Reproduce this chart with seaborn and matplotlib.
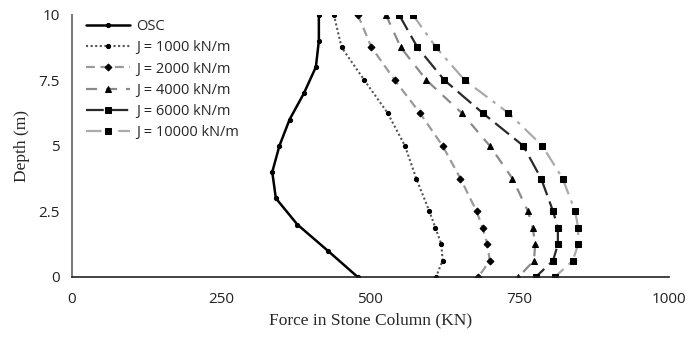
import matplotlib
matplotlib.use("Agg")
import matplotlib.pyplot as plt
import seaborn as sns
import numpy as np
import pandas as pd

sns.set_style("white")
plt.rcParams['font.family'] = ['Open Sans', 'DejaVu Sans']

# Data
depth_osc = [10, 9, 8, 7, 6, 5, 4, 3, 2, 1, 0]
force_osc = [414, 414, 409, 389, 365, 348, 336, 342, 378, 429, 479]

depth_j = [10, 8.75, 7.5, 6.25, 5, 3.75, 2.5, 1.875, 1.25, 0.625, 0]
force_j1000 = [439, 452, 490, 529, 558, 577, 599, 609, 619, 621, 610]
force_j2000 = [479, 502, 541, 583, 621, 651, 678, 688, 696, 700, 681]
force_j4000 = [526, 551, 594, 653, 700, 738, 764, 772, 776, 774, 748]
force_j6000 = [548, 579, 624, 688, 756, 786, 806, 814, 814, 806, 777]
force_j10000 = [571, 610, 658, 731, 788, 822, 843, 848, 848, 839, 809]

labels = ["OSC", "J = 1000 kN/m", "J = 2000 kN/m", "J = 4000 kN/m",
          "J = 6000 kN/m", "J = 10000 kN/m"]
x_ticks = [0, 250, 500, 750, 1000]
x_ticklabels = ["0", "250", "500", "750", "1000"]
y_ticks = [0, 2.5, 5, 7.5, 10]
y_ticklabels = ["0", "2.5", "5", "7.5", "10"]

fig = plt.figure(figsize=(6.87, 3.37), dpi=100)
ax = fig.add_axes([71.5/687, 1-277/337, (669-71.5)/687, (277-14.5)/337])

series = [
    (force_osc, depth_osc, dict(color="black", lw=1.8, linestyle="-", marker="o", ms=3)),
    (force_j1000, depth_j, dict(color="#555555", lw=1.5, linestyle=(0, (1, 1.2)), marker="o", ms=3)),
    (force_j2000, depth_j, dict(color="#9a9a9a", lw=1.6, linestyle=(0, (4, 2.5)), marker="D", ms=3.5)),
    (force_j4000, depth_j, dict(color="#8a8a8a", lw=1.6, linestyle=(0, (5, 4)), marker="^", ms=5)),
    (force_j6000, depth_j, dict(color="#2a2a2a", lw=1.6, linestyle=(0, (8, 3)), marker="s", ms=5)),
    (force_j10000, depth_j, dict(color="#aaaaaa", lw=1.6, linestyle=(0, (7, 3, 1.5, 3)), marker="s", ms=5)),
]

for (x, y, st), lab in zip(series, labels):
    df = pd.DataFrame({"x": x, "y": y})
    sns.lineplot(data=df, x="x", y="y", ax=ax, sort=False, estimator=None,
                 label=lab, color=st["color"], lw=st["lw"], linestyle=st["linestyle"],
                 marker=st["marker"], markersize=st["ms"], markerfacecolor="black",
                 markeredgecolor="black")

ax.set_xlim(0, 1000)
ax.set_ylim(0, 10)
ax.set_xticks(x_ticks)
ax.set_xticklabels(x_ticklabels)
ax.set_xticks([125, 375, 625, 875], minor=True)
ax.set_yticks(y_ticks)
ax.set_yticklabels(y_ticklabels)
ax.set_yticks([1.25, 3.75, 6.25, 8.75], minor=True)
ax.tick_params(axis="both", which="major", direction="inout", length=7, width=1,
               labelsize=11, colors="#222222")
ax.tick_params(axis="x", which="major", pad=7)
ax.tick_params(axis="y", which="major", pad=5)
ax.tick_params(axis="both", which="minor", direction="out", length=3.5, width=1,
               colors="#222222")

for s in ["top", "right"]:
    ax.spines[s].set_visible(False)
ax.spines["left"].set_color("#777777")
ax.spines["bottom"].set_color("#222222")
ax.spines["left"].set_linewidth(1.4)
ax.spines["bottom"].set_linewidth(1.2)

ax.set_xlabel("Force in Stone Column (KN)", fontfamily="Liberation Serif", fontsize=12.5, labelpad=4)
ax.set_ylabel("Depth (m)", fontfamily="Liberation Serif", fontsize=12.5, labelpad=6)

leg = ax.legend(loc="upper left", bbox_to_anchor=(0.01, 1.015), frameon=False,
                fontsize=10.5, handlelength=3.0, labelspacing=0.42, borderaxespad=0.2,
                handletextpad=0.4)

fig.savefig("out.png", dpi=100)
